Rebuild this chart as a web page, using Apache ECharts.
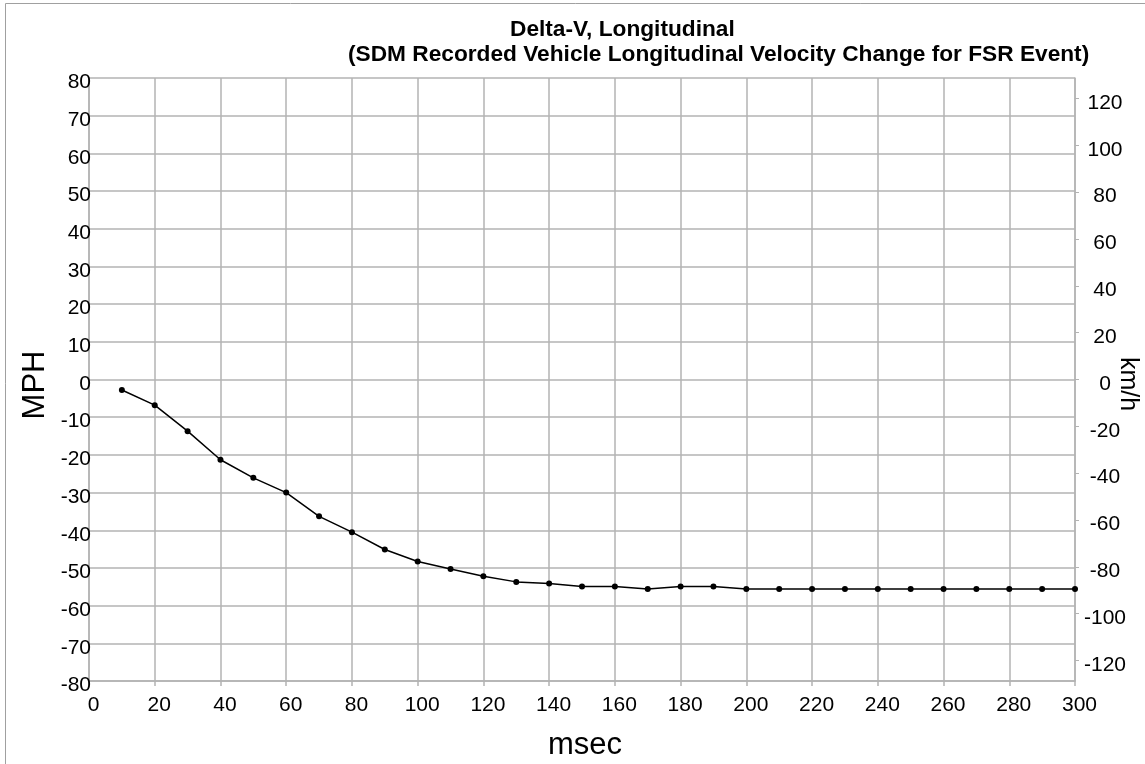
<!DOCTYPE html>
<html>
<head>
<meta charset="utf-8">
<script src="https://cdn.jsdelivr.net/npm/echarts@6/dist/echarts.min.js"></script>
<style>
html,body{margin:0;padding:0;background:#fff;}
#chart{width:1145px;height:764px;}
</style>
</head>
<body>
<div id="chart"></div>
<script>
// ---- data ----
var timeMs = [10,20,30,40,50,60,70,80,90,100,110,120,130,140,150,160,170,180,190,200,210,220,230,240,250,260,270,280,290,300];
var deltaVMph = [-2.8,-6.8,-13.7,-21.3,-26.1,-30.0,-36.3,-40.5,-45.1,-48.3,-50.3,-52.2,-53.7,-54.1,-54.9,-54.9,-55.6,-54.9,-54.9,-55.6,-55.6,-55.6,-55.6,-55.6,-55.6,-55.6,-55.6,-55.6,-55.6,-55.6];
var kmhTicks = [-120,-100,-80,-60,-40,-20,0,20,40,60,80,100,120];
var titleLine1 = 'Delta-V, Longitudinal';
var titleLine2 = '(SDM Recorded Vehicle Longitudinal Velocity Change for FSR Event)';
var MPH_TO_KMH = 1.609344;

var seriesData = timeMs.map(function(t, i){ return [t, deltaVMph[i]]; });
var font = '"Liberation Sans", Arial, sans-serif';
var gridColor = '#b3b3b3';
var tickRich = { v: { color: '#000', fontFamily: font, fontSize: 21, padding: [9, 0, 0, 0] } };

var chart = echarts.init(document.getElementById('chart'));
chart.setOption({
  animation: false,
  backgroundColor: '#ffffff',
  grid: { left: 89, right: 70, top: 78, bottom: 83, containLabel: false },
  xAxis: {
    type: 'value', min: 0, max: 300, interval: 20,
    axisLine: { show: true, onZero: false, lineStyle: { color: gridColor, width: 1.5 } },
    axisTick: { show: true, length: 5, lineStyle: { color: gridColor, width: 1.5 } },
    splitLine: { show: true, lineStyle: { color: gridColor, width: 1.5 } },
    axisLabel: { color: '#000', fontFamily: font, fontSize: 21, margin: 14, padding: [0,0,0,9] }
  },
  yAxis: [{
    type: 'value', min: -80, max: 80, interval: 10,
    axisLine: { show: true, onZero: false, lineStyle: { color: gridColor, width: 1.5 } },
    axisTick: { show: false },
    splitLine: { show: true, lineStyle: { color: gridColor, width: 1.5 } },
    axisLabel: { margin: -2, formatter: '{v|{value}}', rich: tickRich }
  }, {
    type: 'value', position: 'right',
    min: -80 * MPH_TO_KMH, max: 80 * MPH_TO_KMH,
    axisLine: { show: true, onZero: false, lineStyle: { color: gridColor, width: 1.5 } },
    axisTick: { show: true, length: 4, customValues: kmhTicks, lineStyle: { color: gridColor, width: 1 } },
    splitLine: { show: false },
    axisLabel: { margin: 30, align: 'center', customValues: kmhTicks, formatter: '{v|{value}}', rich: tickRich }
  }],
  series: [{
    type: 'line',
    yAxisIndex: 0,
    data: seriesData,
    symbol: 'circle', symbolSize: 6,
    lineStyle: { color: '#000', width: 1.5 },
    itemStyle: { color: '#000' }
  }],
  graphic: [
    { type: 'line', shape: { x1: 5.5, y1: 3.5, x2: 1145, y2: 3.5 }, style: { stroke: '#a0a0a0', lineWidth: 1 } },
    { type: 'line', shape: { x1: 5.5, y1: 3.5, x2: 5.5, y2: 764 }, style: { stroke: '#a0a0a0', lineWidth: 1 } },
    { type: 'text', x: 510, y: 30, style: { text: titleLine1, font: 'bold 22.7px ' + font, fill: '#000', textAlign: 'left', textVerticalAlign: 'middle' } },
    { type: 'text', x: 348, y: 55, style: { text: titleLine2, font: 'bold 22.7px ' + font, fill: '#000', textAlign: 'left', textVerticalAlign: 'middle' } },
    { type: 'text', x: 35, y: 385, rotation: Math.PI / 2, style: { text: 'MPH', font: '31px ' + font, fill: '#000', textAlign: 'center', textVerticalAlign: 'middle' } },
    { type: 'text', x: 1128, y: 384, rotation: -Math.PI / 2, style: { text: 'km/h', font: '25px ' + font, fill: '#000', textAlign: 'center', textVerticalAlign: 'middle' } },
    { type: 'text', x: 585, y: 745, style: { text: 'msec', font: '31px ' + font, fill: '#000', textAlign: 'center', textVerticalAlign: 'middle' } }
  ]
});
</script>
</body>
</html>
